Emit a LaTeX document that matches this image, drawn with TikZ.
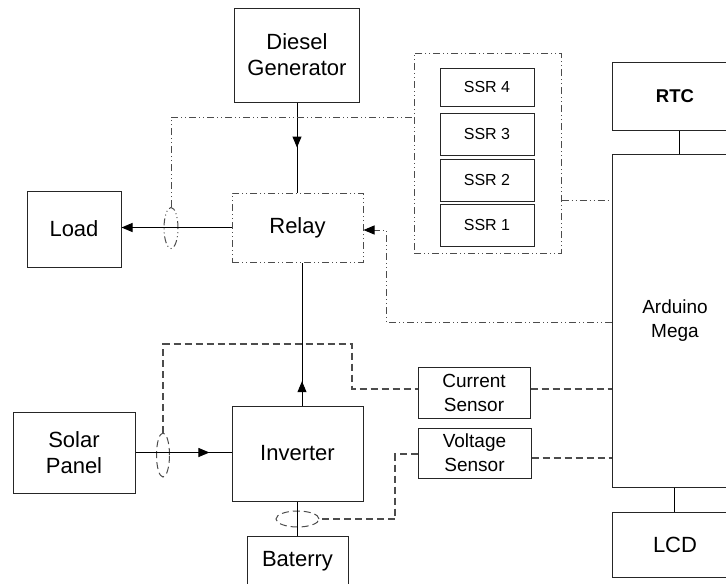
\documentclass[tikz,border=0pt]{standalone}
\usepackage{fontspec}
\setmainfont{Liberation Sans}
\usetikzlibrary{arrows.meta,calc,decorations.markings,shapes.geometric}
\begin{document}
\begin{tikzpicture}[x=1pt,y=-1pt,
  line width=1pt,
  box/.style={draw=black!85, rectangle, inner sep=0pt, align=center, font=\fontsize{22}{26}\selectfont},
  sbox/.style={box, font=\fontsize{19}{24}\selectfont},
  ssrbox/.style={box, minimum width=94pt, font=\fontsize{16}{19}\selectfont},
  dashdot/.style={draw=black!70, dash pattern=on 7pt off 3pt on 1pt off 3pt on 1pt off 3pt},
  dsh/.style={draw=black!70, line width=1.1pt, dash pattern=on 7pt off 4pt},
  tip/.style={-{Triangle[length=11pt,width=9pt,color=black]}},
  midarrow/.style={postaction={decorate}, decoration={markings, mark=at position #1 with {\arrow{Triangle[length=11pt,width=9pt]}}}},
  ell/.style={ellipse, inner sep=0pt}
]
\useasboundingbox (0,0) rectangle (726,584);
\clip (0,0) rectangle (726,584);

% boxes
\node[box, minimum width=125pt, minimum height=94pt] (dg) at (297,55) {Diesel\\Generator};
\node[box, dashdot, minimum width=131pt, minimum height=69pt] (relay) at (297.5,227.5) {Relay};
\node[box, minimum width=94pt, minimum height=76pt] (load) at (74,229) {Load};
\node[box, minimum width=131pt, minimum height=95pt] (inv) at (297.5,453.5) {Inverter};
\node[box, minimum width=122pt, minimum height=81pt] (solar) at (74,452.5) {Solar\\Panel};
\node[box, minimum width=101pt, minimum height=50pt] (bat) at (297.5,561) {Baterry};
\node[sbox, minimum width=112pt, minimum height=51pt] (cs) at (474,392.5) {Current\\Sensor};
\node[sbox, minimum width=113pt, minimum height=50pt] (vs) at (474.5,453) {Voltage\\Sensor};
\node[sbox, minimum width=126pt, minimum height=333pt] (ard) at (675,320.5) {Arduino\\Mega};
\node[box, minimum width=126pt, minimum height=68pt, font=\fontsize{18.5}{22}\selectfont\bfseries] (rtc) at (675,96) {RTC};
\node[box, minimum width=126pt, minimum height=65pt] (lcd) at (675,544.5) {LCD};

\node[dashdot, rectangle, minimum width=147pt, minimum height=200pt] (ssrg) at (487.5,153) {};
\node[ssrbox, minimum height=38pt] (ssr4) at (487,87) {SSR 4};
\node[ssrbox, minimum height=42pt] (ssr3) at (487,134) {SSR 3};
\node[ssrbox, minimum height=42pt] (ssr2) at (487,180) {SSR 2};
\node[ssrbox, minimum height=42pt] (ssr1) at (487,225) {SSR 1};

% ellipses (current-sense loops)
\node[ell, dashdot, minimum width=14pt, minimum height=41pt] (e1) at (171,228) {};
\node[ell, dsh, line width=1pt, minimum width=13pt, minimum height=44pt] (e2) at (163,455) {};
\node[ell, dsh, line width=1pt, minimum width=43pt, minimum height=16pt] (e3) at (297.5,519) {};

% power connectors
\draw[midarrow=0.5] (dg.south) -- (dg.south |- relay.north);
\draw[tip] (relay.west) -- (relay.west -| load.east);
\coordinate (iv) at ($(inv.north)+(4.5,0)$);
\draw[midarrow=0.17] (iv) -- (iv |- relay.south);
\draw[midarrow=0.77] (solar.east) -- (solar.east -| inv.west);
\draw (bat.north) -- (bat.north |- inv.south);
\draw ($(rtc.south)+(4,0)$) -- ($(ard.north)+(4,0)$);
\draw ($(ard.south)+(-1,0)$) -- ($(lcd.north)+(-1,0)$);

% control (dash-dot)
\coordinate (s1) at (ssrg.east |- 0,200);
\draw[dashdot] (s1) -- (s1 -| ard.west);
\coordinate (c1) at (ard.west |- 0,322);
\draw[dashdot, tip] (c1) -- (386,322) -- (386,230) -- (relay.east |- 0,230);
\draw[dashdot] (e1.north) -- (171,117) -- (ssrg.west |- 0,117);

% sensing (dashed)
\draw[dsh] (e2.north) -- (163,344) -- (352,344) -- (352,389) -- (cs.west |- 0,389);
\draw[dsh] (cs.east |- 0,389) -- (ard.west |- 0,389);
\draw[dsh] (vs.east |- 0,458) -- (ard.west |- 0,458);
\draw[dsh] (vs.west |- 0,454) -- (395,454) -- (395,519) -- (e3.east);
\end{tikzpicture}
\end{document}
